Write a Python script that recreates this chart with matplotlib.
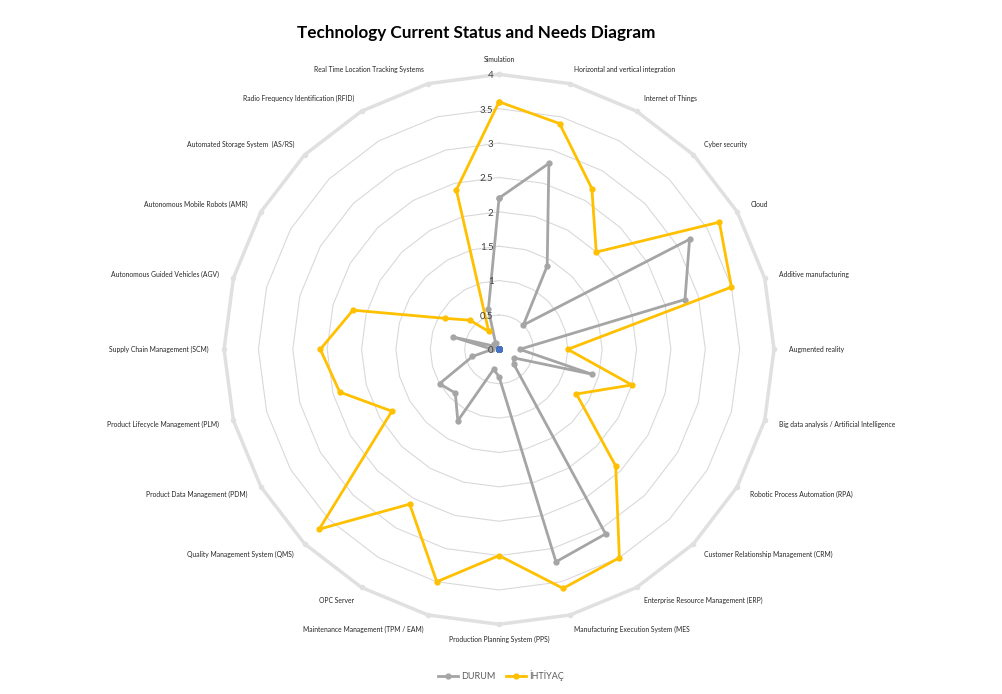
import numpy as np
import matplotlib.pyplot as plt

categories = [
    "Simulation", "Horizontal and vertical integration", "Internet of Things",
    "Cyber security", "Cloud", "Additive manufacturing", "Augmented reality",
    "Big data analysis / Artificial Intelligence", "Robotic Process Automation (RPA)",
    "Customer Relationship Management (CRM)", "Enterprise Resource Management (ERP)",
    "Manufacturing Execution System (MES", "Production Planning System (PPS)",
    "Maintenance Management (TPM / EAM)", "OPC Server", "Quality Management System (QMS)",
    "Product Data Management (PDM)", "Product Lifecycle Management (PLM)",
    "Supply Chain Management (SCM)", "Autonomous Guided Vehicles (AGV)",
    "Autonomous Mobile Robots (AMR)", "Automated Storage System  (AS/RS)",
    "Radio Frequency Identification (RFID)", "Real Time Location Tracking Systems",
]
durum = [2.2, 2.8, 1.4, 0.5, 3.2, 2.8, 0.3, 1.4, 0.25, 0.3, 3.1, 3.2,
         0.4, 0.3, 1.2, 0.9, 1.0, 0.4, 0.1, 0.7, 0.1, 0.1, 0.1, 0.6]
ihtiyac = [3.6, 3.4, 2.7, 2.0, 3.7, 3.5, 1.0, 2.0, 1.3, 2.4, 3.5, 3.6,
           3.0, 3.5, 2.6, 3.7, 1.8, 2.4, 2.6, 2.2, 0.9, 0.6, 0.3, 2.4]
maks = [4, 4, 4, 4, 4, 4, 4, 4, 4, 4, 4, 4, 4, 4, 4, 4, 4, 4, 4, 4, 4, 4, 4, 4]
sifir = [0, 0, 0, 0, 0, 0, 0, 0, 0, 0, 0, 0, 0, 0, 0, 0, 0, 0, 0, 0, 0, 0, 0, 0]
ticks = [0, 0.5, 1, 1.5, 2, 2.5, 3, 3.5, 4]
tick_labels = ["0", "0.5", "1", "1.5", "2", "2.5", "3", "3.5", "4"]

plt.rcParams['font.family'] = ['Lato', 'DejaVu Sans']

n = len(categories)
theta = np.linspace(0, 2 * np.pi, n, endpoint=False)
theta_c = np.append(theta, theta[0])

def closed(vals):
    return np.append(vals, vals[0])

fig = plt.figure(figsize=(10.02, 6.94), dpi=100)
ax = fig.add_axes([0.2236, 0.1004, 0.5489, 0.7925], projection='polar')
ax.set_theta_zero_location('N')
ax.set_theta_direction(-1)
ax.set_ylim(0, 4)
ax.grid(False)
ax.set_xticks([])
ax.set_yticks([])
ax.spines['polar'].set_visible(False)

# polygon gridlines like Excel
for t in ticks[1:-1]:
    ax.plot(theta_c, [t] * (n + 1), color='#d9d9d9', lw=0.8, zorder=1)

ax.plot(theta_c, closed(maks), color='#e0e0e0', lw=2.5, marker='o', ms=3,
        zorder=2, clip_on=False)
ax.plot(theta_c, closed(durum), color='#a5a5a5', lw=2, marker='o', ms=3.5,
        label='DURUM', zorder=3)
ax.plot(theta_c, closed(ihtiyac), color='#ffc000', lw=2, marker='o', ms=3.5,
        label='İHTİYAÇ', zorder=4)
ax.plot(theta, sifir, color='#4472c4', lw=0, marker='s', ms=3.5, zorder=5)

for t, lab in zip(ticks, tick_labels):
    ax.annotate(lab, xy=(0, t), xytext=(-4, -1), textcoords='offset points',
                ha='right', va='center', fontsize=7, color='#404040', zorder=6)

for ang, lab in zip(theta, categories):
    s = np.sin(ang)
    if abs(s) < 0.05:
        ha = 'center'
    elif s > 0:
        ha = 'left'
    else:
        ha = 'right'
    ax.text(ang, 4.22, lab, ha=ha, va='center', fontsize=4.9, color='#262626')

fig.text(0.475, 0.953, "Technology Current Status and Needs Diagram", ha='center',
         va='center', fontsize=12.3, fontweight='bold', color='black')

handles, labels = ax.get_legend_handles_labels()
fig.legend(handles, labels, loc='center', bbox_to_anchor=(0.5, 0.026), ncol=2,
           frameon=False, fontsize=6.5, handlelength=2.2, handletextpad=0.3,
           columnspacing=1.2, labelcolor='#595959')

fig.savefig('out.png', dpi=100)
